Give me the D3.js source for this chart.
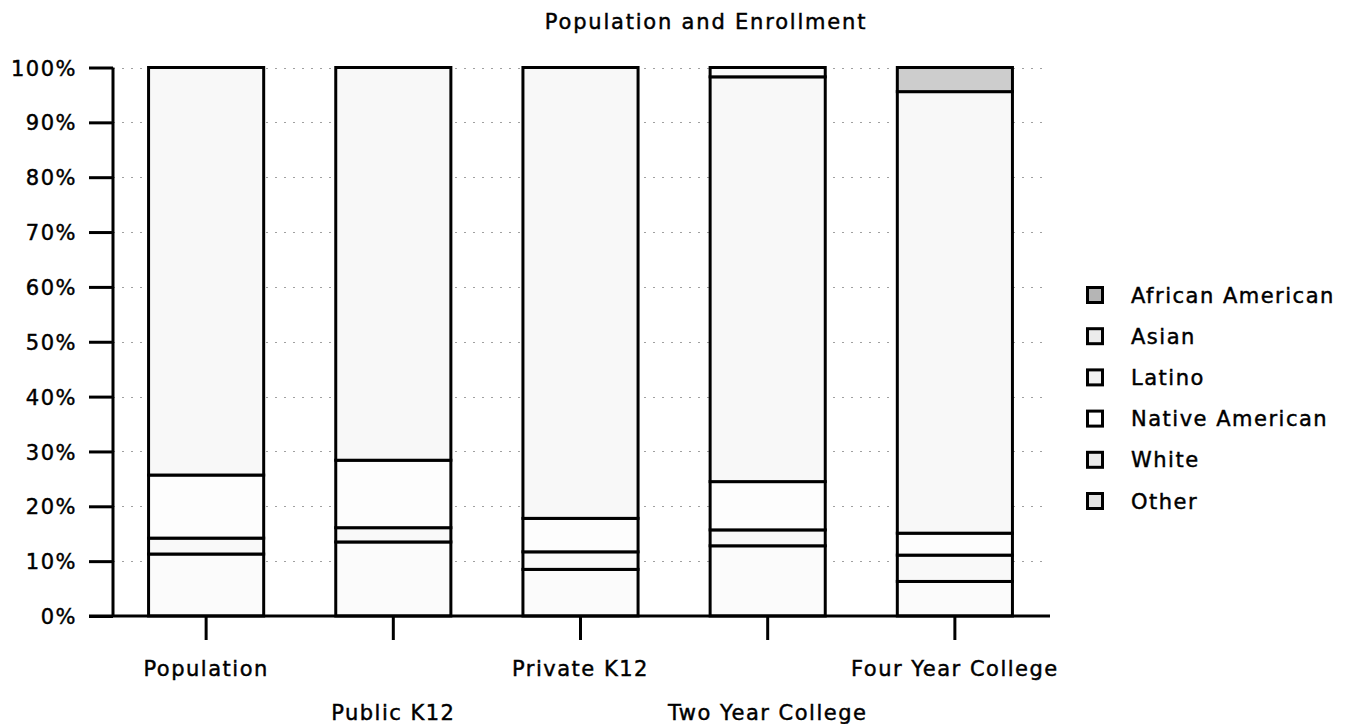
<!DOCTYPE html>
<html>
<head>
<meta charset="utf-8">
<script src="https://cdn.jsdelivr.net/npm/d3@7"></script>
<style>
  html, body { margin: 0; padding: 0; background: #fff; }
  svg { display: block; }
  text { font-family: "DejaVu Sans", sans-serif; fill: #000; stroke: #000; stroke-width: 0.45px; }
</style>
</head>
<body>
<svg id="chart" width="1358" height="724"></svg>
<script>
// ---- data ----
const categories = ["Population", "Public K12", "Private K12", "Two Year College", "Four Year College"];
// stacked bottom -> top (legend lists them top -> bottom)
const seriesNames = ["Other", "White", "Native American", "Latino", "Asian", "African American"];
const other           = [11.3, 13.5,  8.5, 12.8,  6.3];
const white           = [ 2.9,  2.6,  3.2,  2.9,  4.8];
const nativeAmerican  = [11.5, 12.3,  6.1,  8.8,  4.0];
const latino          = [74.3, 71.6, 82.2, 73.8, 80.5];
const asian           = [ 0.0,  0.0,  0.0,  1.7,  0.0];
const africanAmerican = [ 0.0,  0.0,  0.0,  0.0,  4.4];
const legendOrder = ["African American", "Asian", "Latino", "Native American", "White", "Other"];
const yTicks = [0, 10, 20, 30, 40, 50, 60, 70, 80, 90, 100];
const title = "Population and Enrollment";

// ---- styles ----
const barFill = {
  "Other": "#fbfbfb", "White": "#f9f9f9", "Native American": "#fdfdfd",
  "Latino": "#f8f8f8", "Asian": "#fafafa", "African American": "#cdcdcd"
};
const swatchFill = {
  "African American": "#b5b5b5", "Asian": "#ececec", "Latino": "#f1f1f1",
  "Native American": "#ffffff", "White": "#ebebeb", "Other": "#e3e3e3"
};

const table = categories.map((c, i) => ({
  cat: c,
  "Other": other[i], "White": white[i], "Native American": nativeAmerican[i],
  "Latino": latino[i], "Asian": asian[i], "African American": africanAmerican[i]
}));

const svg = d3.select("#chart");
const x = d3.scaleBand().domain(categories).range([113, 1048]).paddingInner(0.385).paddingOuter(0.19);
const y = d3.scaleLinear().domain([0, 100]).range([616, 67.5]);

const fontSize = 21, ls = 1.5;

// title
svg.append("text").attr("x", 706).attr("y", 29).attr("text-anchor", "middle")
  .style("font-size", "21px").style("letter-spacing", "1.8px").text(title);

// gridlines
svg.append("g").selectAll("line").data(yTicks.filter(d => d > 0)).join("line")
  .attr("x1", 113).attr("x2", 1048)
  .attr("y1", d => Math.round(y(d)) + 0.5).attr("y2", d => Math.round(y(d)) + 0.5)
  .attr("stroke", "#a0a0a0").attr("stroke-width", 1).attr("stroke-dasharray", "2,7");

// bars
const stack = d3.stack().keys(seriesNames);
const layers = stack(table);
const barG = svg.append("g");
layers.forEach(layer => {
  barG.append("g").selectAll("rect")
    .data(layer.filter(d => d[1] - d[0] > 0))
    .join("rect")
    .attr("x", d => x(d.data.cat))
    .attr("width", x.bandwidth())
    .attr("y", d => y(d[1]))
    .attr("height", d => y(d[0]) - y(d[1]))
    .attr("fill", barFill[layer.key])
    .attr("stroke", "#000").attr("stroke-width", 3);
});

// y axis
const yAxis = d3.axisLeft(y).tickValues(yTicks).tickSize(24).tickFormat(d => d + "%");
const ya = svg.append("g").attr("transform", "translate(113,0)").call(yAxis);
ya.select(".domain").attr("stroke", "#000").attr("stroke-width", 3)
  .attr("d", `M0,${y(100)}V${y(0)}`);
ya.selectAll(".tick line").attr("stroke", "#000").attr("stroke-width", 3);
ya.selectAll(".tick text").attr("x", -36).attr("dy", "0.36em")
  .style("font-size", fontSize + "px").style("letter-spacing", ls + "px")
  .style("font-family", "DejaVu Sans, sans-serif").attr("fill", "#000");

// x axis
const xAxis = d3.axisBottom(x).tickSize(24).tickSizeOuter(0);
const xa = svg.append("g").attr("transform", "translate(0,616)").call(xAxis);
xa.select(".domain").attr("stroke", "#000").attr("stroke-width", 3)
  .attr("d", "M89,0H1050");
xa.selectAll(".tick line").attr("stroke", "#000").attr("stroke-width", 3);
xa.selectAll(".tick text")
  .attr("y", (d, i) => i % 2 === 0 ? 60 : 104).attr("dy", 0)
  .style("font-size", fontSize + "px").style("letter-spacing", ls + "px")
  .style("font-family", "DejaVu Sans, sans-serif").attr("fill", "#000");

// legend
const lg = svg.append("g").selectAll("g").data(legendOrder).join("g")
  .attr("transform", (d, i) => `translate(1086, ${295 + i * 41.2})`);
lg.append("rect").attr("x", 1.5).attr("y", -7.5).attr("width", 15).attr("height", 15)
  .attr("fill", d => swatchFill[d]).attr("stroke", "#000").attr("stroke-width", 3);
lg.append("text").attr("x", 45).attr("y", 7.5)
  .style("font-size", fontSize + "px").style("letter-spacing", ls + "px").text(d => d);
</script>
</body>
</html>
